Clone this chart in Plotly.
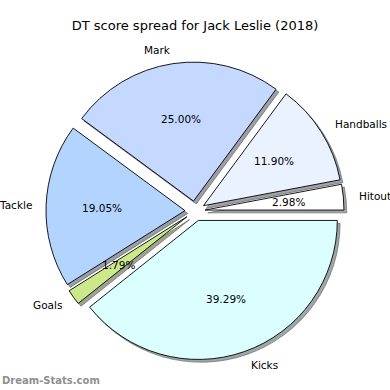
import math
import plotly.graph_objects as go

# ---- data ----
labels = ["Kicks", "Goals", "Tackle", "Mark", "Handballs", "Hitout"]
values = [66, 3, 32, 42, 20, 5]
colors = ["#dbffff", "#cce98a", "#b3d4ff", "#c5d8ff", "#eaf1ff", "#ffffff"]
title = "DT score spread for Jack Leslie (2018)"
watermark = "Dream-Stats.com"

# ---- geometry (pixels) ----
W = H = 390
CX, CY = 195, 211          # pie centre (from top-left)
R = 139                    # pie radius
PULL = 0.072               # explode fraction of radius
SH = 2.8                   # shadow offset
box = R * (2 + 2 * PULL)
FS = 10.5


def dom(dx=0.0, dy=0.0):
    x0 = (CX + dx - box / 2) / W
    x1 = (CX + dx + box / 2) / W
    yc = H - (CY + dy)
    y0 = (yc - box / 2) / H
    y1 = (yc + box / 2) / H
    return dict(x=[x0, x1], y=[y0, y1])


def shade(c):
    c = c.lstrip("#")
    r, g, b = (int(c[i:i + 2], 16) for i in (0, 2, 4))
    return "rgba(%d,%d,%d,0.5)" % (r * 0.3, g * 0.3, b * 0.3)


fig = go.Figure()
common = dict(labels=labels, values=values, sort=False, direction="clockwise",
              rotation=90, pull=[PULL] * len(values), textinfo="none",
              hoverinfo="label+percent", showlegend=False)
shadow_cols = [shade(c) for c in colors]
fig.add_trace(go.Pie(**common, domain=dom(SH, SH),
                     marker=dict(colors=shadow_cols, line=dict(color=shadow_cols, width=1))))
fig.add_trace(go.Pie(**common, domain=dom(),
                     marker=dict(colors=colors, line=dict(color="black", width=0.9))))

# ---- labels & percentages positioned from data angles ----
total = sum(values)
cum = 0
annotations = []
for lab, v in zip(labels, values):
    frac = v / total
    theta = -2 * math.pi * (cum + frac / 2)
    cum += frac
    ox = CX + PULL * R * math.cos(theta)
    oy = CY - PULL * R * math.sin(theta)
    lx = ox + 1.1 * R * math.cos(theta)
    ly = oy - 1.1 * R * math.sin(theta)
    px = ox + 0.6 * R * math.cos(theta)
    py = oy - 0.6 * R * math.sin(theta)
    right_side = math.cos(theta) > 0
    annotations.append(dict(x=lx / W, y=1 - ly / H, xref="paper", yref="paper",
                            text=lab, showarrow=False,
                            xanchor="left" if right_side else "right",
                            xshift=0 if right_side else 2,
                            yanchor="middle",
                            font=dict(family="DejaVu Sans", size=FS, color="black")))
    annotations.append(dict(x=px / W, y=1 - py / H, xref="paper", yref="paper",
                            text="%.2f%%" % (frac * 100), showarrow=False,
                            xanchor="center", yanchor="middle",
                            font=dict(family="DejaVu Sans", size=FS, color="black")))

annotations.append(dict(x=0, y=1 - 380 / H, xref="paper", yref="paper",
                        text="<b>%s</b>" % watermark,
                        showarrow=False, xanchor="left", yanchor="middle",
                        font=dict(family="DejaVu Sans", size=10, color="#8f8f8f")))

fig.update_layout(
    width=W, height=H,
    margin=dict(l=0, r=0, t=0, b=0),
    paper_bgcolor="white", plot_bgcolor="white",
    title=dict(text=title, x=0.5, xanchor="center", y=1 - 25 / H, yanchor="middle",
               font=dict(family="DejaVu Sans", size=13, color="black")),
    annotations=annotations,
)

fig.write_html("out.html", config={"displayModeBar": False},
               post_script="document.body.style.margin='0';")
